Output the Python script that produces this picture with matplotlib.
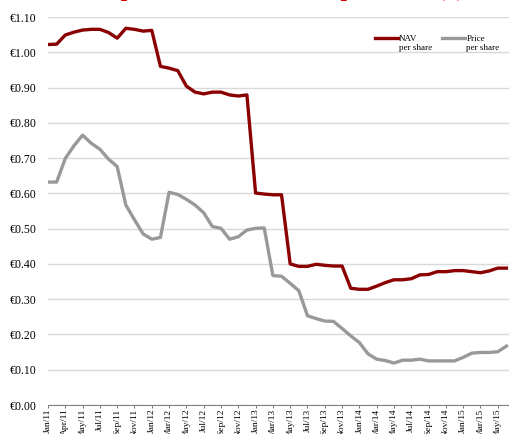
import matplotlib
matplotlib.use("Agg")
import matplotlib.pyplot as plt

plt.rcParams['font.family'] = ['Liberation Serif', 'DejaVu Serif']

nav = [1.022, 1.023, 1.049, 1.057, 1.063, 1.065, 1.065, 1.056, 1.040, 1.068,
       1.065, 1.060, 1.062, 0.960, 0.955, 0.948, 0.904, 0.887, 0.882, 0.887,
       0.887, 0.879, 0.876, 0.879, 0.601, 0.598, 0.596, 0.596, 0.400, 0.393,
       0.393, 0.399, 0.396, 0.394, 0.394, 0.331, 0.328, 0.328, 0.337, 0.347,
       0.355, 0.355, 0.358, 0.369, 0.370, 0.378, 0.378, 0.381, 0.381, 0.378,
       0.375, 0.380, 0.388, 0.388]
price = [0.632, 0.632, 0.699, 0.735, 0.765, 0.742, 0.725, 0.697, 0.676, 0.567,
         0.525, 0.485, 0.470, 0.475, 0.603, 0.597, 0.583, 0.567, 0.545, 0.506,
         0.501, 0.470, 0.477, 0.496, 0.501, 0.502, 0.367, 0.365, 0.345, 0.324,
         0.253, 0.245, 0.238, 0.237, 0.217, 0.196, 0.177, 0.145, 0.130, 0.126,
         0.119, 0.127, 0.127, 0.130, 0.125, 0.125, 0.125, 0.125, 0.135, 0.147,
         0.149, 0.149, 0.151, 0.167]
tick_labels = ['Jan/11', 'Apr/11', 'May/11', 'Jul/11', 'Sep/11', 'Nov/11',
               'Jan/12', 'Mar/12', 'May/12', 'Jul/12', 'Sep/12', 'Nov/12',
               'Jan/13', 'Mar/13', 'May/13', 'Jul/13', 'Sep/13', 'Nov/13',
               'Jan/14', 'Mar/14', 'May/14', 'Jul/14', 'Sep/14', 'Nov/14',
               'Jan/15', 'Mar/15', 'May/15']
yticks = [0.0, 0.1, 0.2, 0.3, 0.4, 0.5, 0.6, 0.7, 0.8, 0.9, 1.0, 1.1]

fig = plt.figure(figsize=(5.09, 4.34), dpi=100)
ax = fig.add_axes([48 / 509, 29 / 434, 461 / 509, 388 / 434])

x = list(range(len(nav)))
ax.plot(x, nav, color='#8b0000', lw=2.4, label='NAV\nper share', solid_joinstyle='round')
ax.plot(x, price, color='#999999', lw=2.4, label='Price\nper share', solid_joinstyle='round')

ax.set_ylim(0, 1.1)
ax.set_xlim(0, 53.3)
ax.set_yticks(yticks)
ax.set_yticklabels(['€%.2f' % v for v in yticks], fontsize=8.5)
ax.set_xticks(range(0, len(nav), 2))
ax.set_xticklabels(tick_labels, rotation=90, fontsize=6.8)
ax.yaxis.grid(True, color='#d9d9d9', lw=1)
ax.set_axisbelow(True)
ax.tick_params(axis='y', length=0, pad=8)
ax.tick_params(axis='x', length=2, color='#808080', pad=0.5)
for s in ['left', 'right', 'top']:
    ax.spines[s].set_visible(False)
ax.spines['bottom'].set_color('#808080')

leg = ax.legend(loc='upper right', bbox_to_anchor=(0.997, 0.975), ncol=2, frameon=False,
                fontsize=6.5, handlelength=2.6, columnspacing=1.1, handletextpad=0.1)
for ln in leg.get_lines():
    ln.set_ydata([v + 3.5 for v in ln.get_ydata()])

# title sits above the canvas, only its descenders show (as in the source image)
fig.text(0.513, 1 + 4 / 434, 'Share price discount to NAV per share (€)', color='#e00000',
         fontsize=16.5, fontweight='bold', ha='center', va='baseline')

fig.savefig('out.png', dpi=100)
